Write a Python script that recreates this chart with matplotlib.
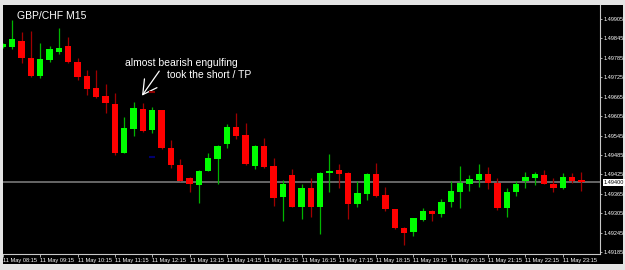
import numpy as np
import matplotlib
matplotlib.use('Agg')
import matplotlib.pyplot as plt
import matplotlib.transforms as mtransforms
from matplotlib.patches import Rectangle

plt.rcParams['font.family'] = ['Liberation Sans', 'DejaVu Sans']

# GBP/CHF M15, 11 May 08:15 .. 23:45
symbol = 'GBP/CHF M15'
opens = [1.49817, 1.49819, 1.49838, 1.49785, 1.49729, 1.49778, 1.49804, 1.49822,
         1.49773, 1.49729, 1.49691, 1.49667, 1.49642, 1.49492, 1.49565, 1.49626,
         1.49562, 1.49624, 1.49505, 1.49454, 1.49413, 1.49392, 1.49436, 1.49472,
         1.49518, 1.49572, 1.49547, 1.49452, 1.49512, 1.49451, 1.49356, 1.49423,
         1.49323, 1.49382, 1.49325, 1.49428, 1.49438, 1.49430, 1.49333, 1.49364,
         1.49426, 1.49361, 1.49318, 1.49258, 1.49246, 1.49284, 1.49313, 1.49301,
         1.49339, 1.49371, 1.49395, 1.49407, 1.49426, 1.49399, 1.49320, 1.49370,
         1.49404, 1.49413, 1.49423, 1.49395, 1.49382, 1.49418, 1.49407]
highs = [1.49831, 1.49902, 1.49866, 1.49869, 1.49830, 1.49822, 1.49878, 1.49848,
         1.49784, 1.49747, 1.49747, 1.49704, 1.49677, 1.49603, 1.49649, 1.49645,
         1.49633, 1.49625, 1.49531, 1.49471, 1.49418, 1.49437, 1.49490, 1.49516,
         1.49580, 1.49614, 1.49585, 1.49516, 1.49536, 1.49476, 1.49407, 1.49440,
         1.49394, 1.49415, 1.49431, 1.49487, 1.49457, 1.49431, 1.49404, 1.49428,
         1.49461, 1.49385, 1.49319, 1.49261, 1.49290, 1.49320, 1.49315, 1.49349,
         1.49404, 1.49451, 1.49423, 1.49458, 1.49449, 1.49413, 1.49382, 1.49404,
         1.49433, 1.49433, 1.49438, 1.49413, 1.49430, 1.49430, 1.49433]
lows = [1.49814, 1.49812, 1.49768, 1.49727, 1.49722, 1.49773, 1.49796, 1.49769,
        1.49716, 1.49670, 1.49662, 1.49615, 1.49485, 1.49490, 1.49543, 1.49557,
        1.49554, 1.49502, 1.49444, 1.49404, 1.49371, 1.49335, 1.49435, 1.49395,
        1.49507, 1.49534, 1.49454, 1.49441, 1.49445, 1.49328, 1.49282, 1.49324,
        1.49286, 1.49294, 1.49241, 1.49371, 1.49382, 1.49287, 1.49323, 1.49346,
        1.49354, 1.49313, 1.49255, 1.49207, 1.49234, 1.49282, 1.49282, 1.49292,
        1.49325, 1.49322, 1.49374, 1.49387, 1.49379, 1.49315, 1.49294, 1.49358,
        1.49382, 1.49392, 1.49394, 1.49371, 1.49381, 1.49397, 1.49374]
closes = [1.49828, 1.49842, 1.49783, 1.49729, 1.49780, 1.49811, 1.49814, 1.49771,
          1.49725, 1.49688, 1.49663, 1.49646, 1.49490, 1.49567, 1.49629, 1.49559,
          1.49625, 1.49505, 1.49454, 1.49405, 1.49394, 1.49435, 1.49476, 1.49512,
          1.49572, 1.49544, 1.49457, 1.49512, 1.49447, 1.49353, 1.49395, 1.49325,
          1.49382, 1.49325, 1.49430, 1.49434, 1.49426, 1.49333, 1.49366, 1.49426,
          1.49358, 1.49317, 1.49258, 1.49245, 1.49289, 1.49313, 1.49301, 1.49340,
          1.49373, 1.49399, 1.49411, 1.49425, 1.49397, 1.49320, 1.49370, 1.49395,
          1.49416, 1.49425, 1.49395, 1.49384, 1.49418, 1.49404, 1.49400]

time_labels = ['11 May 08:15', '11 May 09:15', '11 May 10:15', '11 May 11:15',
               '11 May 12:15', '11 May 13:15', '11 May 14:15', '11 May 15:15',
               '11 May 16:15', '11 May 17:15', '11 May 18:15', '11 May 19:15',
               '11 May 20:15', '11 May 21:15', '11 May 22:15', '11 May 23:15']
price_ticks = [1.49185, 1.49245, 1.49305, 1.49365, 1.49425, 1.49485, 1.49545,
               1.49605, 1.49665, 1.49725, 1.49785, 1.49845, 1.49905]
last_price = 1.49400

note_lines = ['almost bearish engulfing', 'took the short / TP']
arrow_tip = (14.9, 1.49668)
arrow_tail = (16.75, 1.49744)
# two small objects sitting on the 11:15 bar column
mark_x = [16, 16]
mark_y = [1.49678, 1.49478]
mark_colors = ['#8b0000', '#00006e']

fig = plt.figure(figsize=(6.25, 2.7), dpi=100, facecolor='#e4e4e4')
fig.patches.append(Rectangle((3 / 625, 6 / 270), 620 / 625, 259 / 270,
                             transform=fig.transFigure, facecolor='black',
                             edgecolor='none', zorder=-10))
ax = fig.add_axes([3 / 625, 16 / 270, 597 / 625, 249 / 270], facecolor='black')
ax.set_zorder(1)

o = np.array(opens)
h = np.array(highs)
l = np.array(lows)
c = np.array(closes)
idx = np.arange(len(o))
up = c >= o

ax.axhline(last_price, color='#6e6e6e', lw=1.3, zorder=1)
ax.vlines(idx, l, h, colors=np.where(up, '#00b400', '#a00000'), linewidth=0.9, zorder=2)
ax.bar(idx, np.maximum(np.abs(c - o), 0.00002), bottom=np.minimum(o, c), width=0.68,
       color=np.where(up, '#00ff00', '#ff0000'), linewidth=0, zorder=3)

for x, y, col in zip(mark_x, mark_y, mark_colors):
    ax.plot(x, y, marker='_', color=col, markersize=4, mew=1.5, zorder=4)

ax.set_xlim(0.03, 64.0)
ax.set_ylim(1.491788, 1.499483)

ax.yaxis.tick_right()
ax.set_yticks(price_ticks)
ax.set_yticklabels(['%.5f' % v for v in price_ticks])
ax.set_xticks(idx[::4])
ax.set_xticklabels(time_labels, ha='left')
ax.tick_params(axis='y', colors='#c8c8c8', labelcolor='white', labelsize=4.0,
               length=1.5, width=0.6, pad=1)
ax.tick_params(axis='x', colors='#c8c8c8', labelcolor='white', labelsize=4.1,
               length=2, width=0.6, pad=0.6)
for s in ['top', 'left']:
    ax.spines[s].set_visible(False)
for s in ['right', 'bottom']:
    ax.spines[s].set_color('#c8c8c8')
    ax.spines[s].set_linewidth(0.8)

trans = mtransforms.blended_transform_factory(ax.transAxes, ax.transData)
ax.text(1.0067, last_price, '%.5f' % last_price, transform=trans, fontsize=4.0,
        color='black', ha='left', va='center', clip_on=False,
        bbox=dict(boxstyle='square,pad=0.15', fc='white', ec='none'))

fig.text(17.3 / 625, 1 - 15.7 / 270, symbol, color='white', fontsize=7.5,
         ha='left', va='center', zorder=5)
fig.text(125 / 625, 1 - 62.7 / 270, note_lines[0], color='white', fontsize=7.5,
         ha='left', va='center', zorder=5)
fig.text(166.7 / 625, 1 - 75.3 / 270, note_lines[1], color='white', fontsize=7.5,
         ha='left', va='center', zorder=5)

ax.annotate('', xy=arrow_tip, xytext=arrow_tail,
            arrowprops=dict(arrowstyle='->,head_length=1.0,head_width=0.55',
                            color='white', lw=0.9, shrinkA=0, shrinkB=0,
                            mutation_scale=10))

fig.savefig('out.png', dpi=100, facecolor=fig.get_facecolor())
